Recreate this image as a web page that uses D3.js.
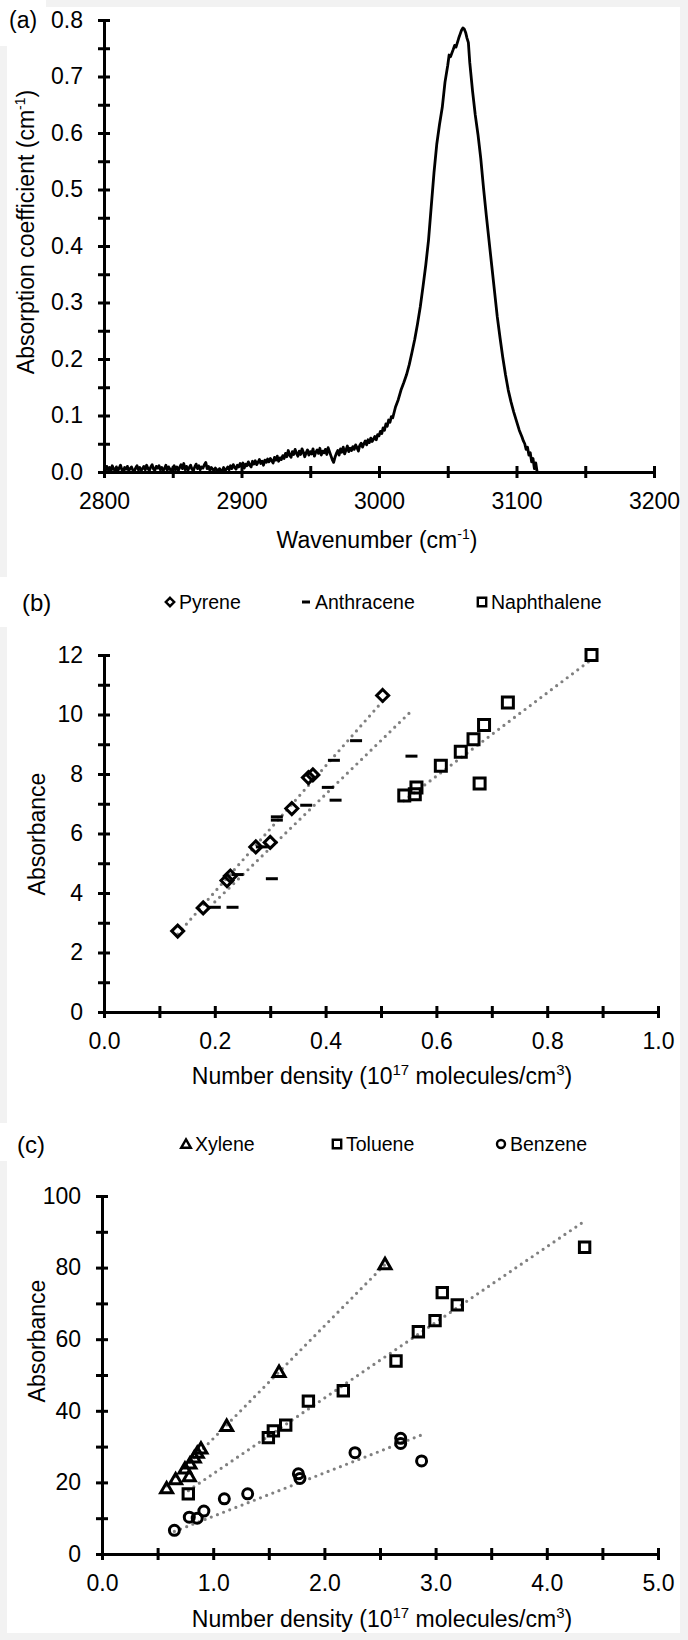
<!DOCTYPE html>
<html>
<head>
<meta charset="utf-8">
<script src="https://cdn.jsdelivr.net/npm/d3@7"></script>
<style>
body { margin: 0; background: #f2f2f2; }
svg { display: block; font-family: "Liberation Sans", Arial, sans-serif; }
</style>
</head>
<body>
<svg id="fig" width="688" height="1640"></svg>
<script>
// ---- (a) spectrum ----
// 2800..3010 every 1 cm-1 (noisy part), then the band itself
let waveNumbers = d3.range(2800, 3011).concat([
  3012,3014,3016,3018,3020,3022,3024,3026,3028,3030,3032,3034,3036,3038,3040,3042,3044,3046,3048,3050,
  3051,3052,3054,3055,3056,3058,3059,3060,3061,3062,3063,3064,3065,3066,3068,3070,3072,3074,3076,3078,
  3080,3082,3084,3086,3088,3090,3092,3094,3096,3098,3100,3102,3104,3105,3106,3107,3108,3109,3110,3111,
  3112,3113,3114,3115
]);
let absorption = [
  0.006,0.002,0.010,0.004,0.008,0.001,0.011,0.005,0.003,0.009,
  0.002,0.007,0.012,0.004,0.000,0.008,0.005,0.010,0.002,0.006,
  0.009,0.003,0.001,0.007,0.011,0.004,0.008,0.002,0.006,0.010,
  0.004,0.012,0.006,0.002,0.009,0.013,0.005,0.003,0.010,0.007,
  0.011,0.004,0.008,0.002,0.006,0.012,0.003,0.009,0.005,0.001,
  0.007,0.011,0.004,0.009,0.002,0.008,0.013,0.006,0.015,0.004,
  0.010,0.003,0.008,0.012,0.005,0.002,0.009,0.014,0.006,0.011,
  0.004,0.009,0.007,0.013,0.017,0.006,0.010,0.003,0.008,0.005,
  0.002,0.007,0.004,0.000,0.006,0.003,0.001,0.008,0.002,0.005,
  0.009,0.004,0.011,0.006,0.013,0.008,0.005,0.012,0.009,0.015,
  0.010,0.016,0.007,0.014,0.011,0.018,0.012,0.009,0.019,0.014,
  0.020,0.013,0.017,0.022,0.015,0.019,0.012,0.021,0.017,0.023,
  0.018,0.024,0.020,0.016,0.026,0.021,0.028,0.019,0.025,0.022,
  0.029,0.024,0.033,0.027,0.038,0.030,0.026,0.036,0.031,0.040,
  0.033,0.028,0.037,0.031,0.041,0.035,0.027,0.034,0.039,0.030,
  0.036,0.032,0.041,0.028,0.035,0.039,0.033,0.042,0.030,0.037,
  0.034,0.040,0.031,0.043,0.036,0.029,0.022,0.017,0.026,0.033,
  0.038,0.030,0.041,0.035,0.044,0.032,0.039,0.046,0.036,0.042,
  0.038,0.045,0.040,0.048,0.043,0.037,0.047,0.051,0.044,0.050,
  0.055,0.048,0.057,0.052,0.060,0.054,0.058,0.063,0.057,0.066,
  0.064,0.072,0.068,0.078,0.074,0.085,0.081,0.092,0.088,0.098,0.096,
  // 3012 ..
  0.115,0.128,0.145,0.158,0.172,0.190,0.212,0.235,0.262,0.292,0.328,0.366,0.410,0.470,0.530,0.580,0.615,0.645,0.690,0.720,
  0.738,0.735,0.748,0.755,0.752,0.768,0.775,0.782,0.786,0.784,0.778,0.768,0.760,0.725,0.675,0.632,0.597,0.555,0.503,0.455,
  0.410,0.365,0.320,0.275,0.238,0.203,0.172,0.145,0.124,0.106,0.090,0.074,0.062,0.055,0.050,0.040,0.044,0.030,0.034,0.018,
  0.024,0.006,0.016,0.000
];

// ---- (b) PAH absorbance vs number density ----
let pyreneX = [0.133, 0.179, 0.222, 0.228, 0.274, 0.300, 0.339, 0.369, 0.377, 0.503];
let pyreneY = [2.72, 3.50, 4.42, 4.57, 5.55, 5.70, 6.84, 7.88, 7.97, 10.64];
let anthraceneX = [0.200, 0.232, 0.241, 0.285, 0.303, 0.312, 0.312, 0.365, 0.404, 0.418, 0.415, 0.455, 0.555];
let anthraceneY = [3.52, 3.52, 4.62, 5.55, 4.48, 6.45, 6.56, 6.95, 7.55, 7.12, 8.46, 9.12, 8.60];
let naphthaleneX = [0.542, 0.561, 0.564, 0.608, 0.644, 0.667, 0.686, 0.678, 0.729, 0.880];
let naphthaleneY = [7.28, 7.32, 7.55, 8.28, 8.75, 9.17, 9.65, 7.68, 10.40, 12.0];
// trend line ends, as drawn
let pyreneFit = [[0.133, 2.62], [0.503, 10.45]];
let anthraceneFit = [[0.200, 3.70], [0.555, 10.12]];
let naphthaleneFit = [[0.541, 7.10], [0.880, 11.85]];

// ---- (c) BTX absorbance vs number density ----
let xyleneX = [0.581, 0.662, 0.746, 0.785, 0.791, 0.830, 0.857, 0.890, 1.121, 1.592, 2.545];
let xyleneY = [18.4, 20.9, 23.9, 21.8, 25.3, 27.0, 28.3, 29.5, 35.8, 50.9, 81.0];
let tolueneX = [0.776, 1.496, 1.541, 1.652, 1.856, 2.170, 2.644, 2.845, 2.995, 3.060, 3.195, 4.340];
let tolueneY = [16.8, 32.5, 34.4, 36.0, 42.7, 45.6, 53.9, 62.1, 65.2, 73.0, 69.6, 85.7];
let benzeneX = [0.651, 0.785, 0.856, 0.916, 1.100, 1.310, 1.766, 1.780, 2.275, 2.686, 2.686, 2.874];
let benzeneY = [6.6, 10.3, 10.0, 12.0, 15.4, 16.8, 22.4, 21.1, 28.3, 32.3, 30.9, 26.0];
let xyleneFit = [[0.58, 19.0], [2.54, 80.7]];
let tolueneFit = [[0.777, 17.7], [4.34, 93.0]];
let benzeneFit = [[0.651, 6.3], [2.87, 33.2]];

let svg = d3.select("#fig");
let FONT = "Liberation Sans, Arial, sans-serif";

// white sheet + little boxes behind the panel letters
svg.append("rect").attr("x", 7).attr("y", 7).attr("width", 673).attr("height", 1626).attr("fill", "#fff");
[[0, 0, 46, 46], [0, 577, 46, 50], [0, 1123, 48, 38]].forEach(b => {
  svg.append("rect").attr("x", b[0]).attr("y", b[1]).attr("width", b[2]).attr("height", b[3]).attr("fill", "#fff");
});

function isMajor(v, m) {
  return Math.abs(v / m - Math.round(v / m)) < 1e-6;
}

// axes with ticks crossing the line, labels only on the major ones
function drawAxes(g, x, y, h, xt, xMajor, xFmt, yt, yMajor, yFmt) {
  let xAxis = g.append("g")
    .attr("transform", `translate(0,${h})`)
    .call(d3.axisBottom(x).tickValues(xt).tickSize(6).tickSizeOuter(0)
      .tickFormat(d => isMajor(d, xMajor) ? xFmt(d) : ""));
  let yAxis = g.append("g")
    .call(d3.axisLeft(y).tickValues(yt).tickSize(6).tickSizeOuter(0)
      .tickFormat(d => isMajor(d, yMajor) ? yFmt(d) : ""));
  xAxis.selectAll(".tick line").attr("y1", -6);
  yAxis.selectAll(".tick line").attr("x1", 6);
  [xAxis, yAxis].forEach(a => {
    a.attr("font-family", FONT).attr("font-size", 23);
    a.select(".domain").attr("stroke-width", 3).attr("stroke", "#000");
    a.selectAll(".tick line").attr("stroke-width", 3).attr("stroke", "#000");
    a.selectAll("text").attr("fill", "#000");
  });
  xAxis.selectAll("text").attr("y", 21);
  yAxis.selectAll("text").attr("x", -21);
}

function markerPath(type, s) {
  if (type == "diamond") return `M0,${-s}L${s},0L0,${s}L${-s},0Z`;
  if (type == "square") return `M${-s},${-s}H${s}V${s}H${-s}Z`;
  if (type == "triangle") return `M0,${-s * 1.1}L${s * 1.15},${s * 0.9}H${-s * 1.15}Z`;
  if (type == "dash") return `M${-s},0H${s}`;
  if (type == "circle") return `M${s},0A${s},${s} 0 1,1 ${-s},0A${s},${s} 0 1,1 ${s},0Z`;
}

function drawPoints(g, x, y, xs, ys, type, s, sw) {
  g.selectAll(null)
    .data(d3.zip(xs, ys))
    .enter()
    .append("path")
    .attr("d", markerPath(type, s))
    .attr("transform", d => `translate(${x(d[0])},${y(d[1])})`)
    .attr("fill", "none")
    .attr("stroke", "#000")
    .attr("stroke-width", sw)
    .attr("stroke-linejoin", "miter");
}

function drawFit(g, x, y, ends) {
  g.append("path")
    .attr("d", d3.line().x(d => x(d[0])).y(d => y(d[1]))(ends))
    .attr("fill", "none")
    .attr("stroke", "#808080")
    .attr("stroke-width", 3.2)
    .attr("stroke-linecap", "round")
    .attr("stroke-dasharray", "0,6.6");
}

function addText(x, y, str, size, anchor) {
  return svg.append("text")
    .attr("x", x).attr("y", y)
    .attr("font-size", size)
    .attr("text-anchor", anchor || "start")
    .attr("fill", "#000")
    .text(str);
}

function legendItem(cx, cy, type, label) {
  let s = type == "dash" ? 4 : (type == "circle" ? 4 : 4.2);
  svg.append("path")
    .attr("d", markerPath(type, s))
    .attr("transform", `translate(${cx},${cy})`)
    .attr("fill", "none").attr("stroke", "#000")
    .attr("stroke-width", type == "dash" ? 3 : 2.4);
  addText(cx + 9, cy + 7, label, 19.5);
}

// ================= (a) =================
let aW = 550, aH = 452;
let gA = svg.append("g").attr("transform", "translate(104,20)");
let xA = d3.scaleLinear().domain([2800, 3200]).range([0, aW]);
let yA = d3.scaleLinear().domain([0, 0.8]).range([aH, 0]);

gA.append("path")
  .attr("d", d3.line().x(d => xA(d[0])).y(d => yA(d[1]))(d3.zip(waveNumbers, absorption)))
  .attr("fill", "none")
  .attr("stroke", "#000")
  .attr("stroke-width", 2.8)
  .attr("stroke-linejoin", "round");

drawAxes(gA, xA, yA, aH,
  d3.range(0, 9).map(i => 2800 + i * 50), 100, d3.format("d"),
  d3.range(0, 17).map(i => i * 0.05), 0.1, d3.format(".1f"));

addText(9, 28, "(a)", 23);
let tA = addText(377, 548, "Wavenumber (cm", 23, "middle");
tA.append("tspan").attr("font-size", 14).attr("dy", -9).text("-1");
tA.append("tspan").attr("dy", 9).text(")");
let yTA = svg.append("text")
  .attr("transform", "translate(34,232) rotate(-90)")
  .attr("font-size", 23).attr("text-anchor", "middle")
  .text("Absorption coefficient (cm");
yTA.append("tspan").attr("font-size", 14).attr("dy", -9).text("-1");
yTA.append("tspan").attr("dy", 9).text(")");

// ================= (b) =================
let bW = 554, bH = 357;
let gB = svg.append("g").attr("transform", "translate(104,655)");
let xB = d3.scaleLinear().domain([0, 1]).range([0, bW]);
let yB = d3.scaleLinear().domain([0, 12]).range([bH, 0]);

drawFit(gB, xB, yB, pyreneFit);
drawFit(gB, xB, yB, anthraceneFit);
drawFit(gB, xB, yB, naphthaleneFit);
drawPoints(gB, xB, yB, anthraceneX, anthraceneY, "dash", 6, 3);
drawPoints(gB, xB, yB, pyreneX, pyreneY, "diamond", 6, 3);
drawPoints(gB, xB, yB, naphthaleneX, naphthaleneY, "square", 5.5, 3);

drawAxes(gB, xB, yB, bH,
  d3.range(0, 11).map(i => i / 10), 0.2, d3.format(".1f"),
  d3.range(0, 13), 2, d3.format("d"));

addText(22, 611, "(b)", 24);
legendItem(170, 602, "diamond", "Pyrene");
legendItem(306, 602, "dash", "Anthracene");
legendItem(482, 602, "square", "Naphthalene");

function densityTitle(y) {
  let t = addText(382, y, "Number  density (10", 23, "middle");
  t.append("tspan").attr("font-size", 15).attr("dy", -9).text("17");
  t.append("tspan").attr("dy", 9).text(" molecules/cm");
  t.append("tspan").attr("font-size", 15).attr("dy", -9).text("3");
  t.append("tspan").attr("dy", 9).text(")");
}
densityTitle(1084);
svg.append("text")
  .attr("transform", "translate(45,834) rotate(-90)")
  .attr("font-size", 23).attr("text-anchor", "middle")
  .text("Absorbance");

// ================= (c) =================
let cW = 556, cH = 358;
let gC = svg.append("g").attr("transform", "translate(102,1196)");
let xC = d3.scaleLinear().domain([0, 5]).range([0, cW]);
let yC = d3.scaleLinear().domain([0, 100]).range([cH, 0]);

drawFit(gC, xC, yC, xyleneFit);
drawFit(gC, xC, yC, tolueneFit);
drawFit(gC, xC, yC, benzeneFit);
drawPoints(gC, xC, yC, xyleneX, xyleneY, "triangle", 5.2, 3);
drawPoints(gC, xC, yC, tolueneX, tolueneY, "square", 5.2, 3);
drawPoints(gC, xC, yC, benzeneX, benzeneY, "circle", 5, 3);

drawAxes(gC, xC, yC, cH,
  d3.range(0, 11).map(i => i / 2), 1, d3.format(".1f"),
  d3.range(0, 11).map(i => i * 10), 20, d3.format("d"));

addText(17, 1153, "(c)", 24);
legendItem(186, 1144, "triangle", "Xylene");
legendItem(337, 1144, "square", "Toluene");
legendItem(501, 1144, "circle", "Benzene");

densityTitle(1627);
svg.append("text")
  .attr("transform", "translate(45,1341) rotate(-90)")
  .attr("font-size", 23).attr("text-anchor", "middle")
  .text("Absorbance");
</script>
</body>
</html>
